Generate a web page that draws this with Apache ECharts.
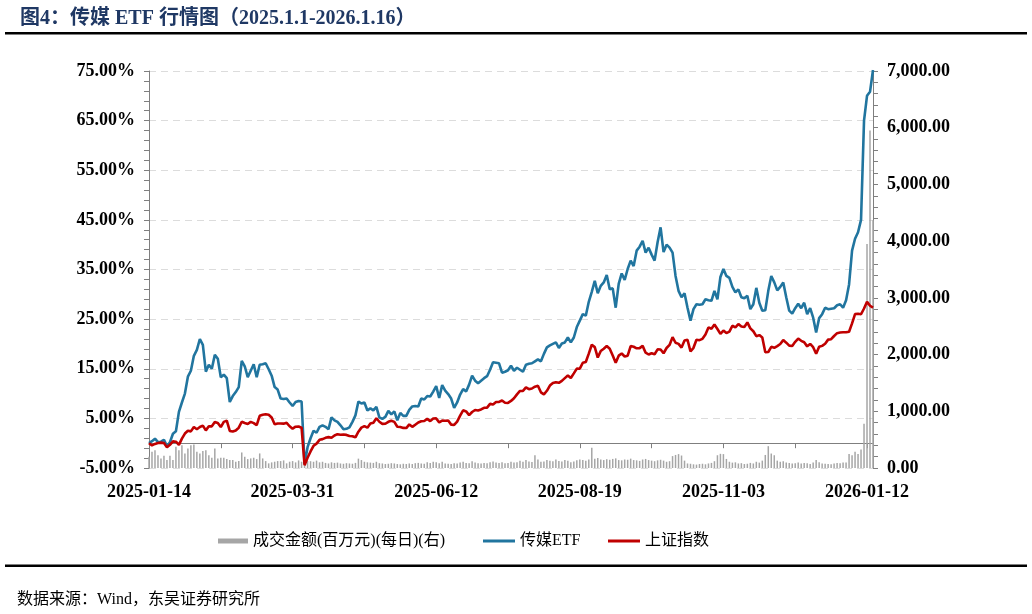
<!DOCTYPE html>
<html>
<head>
<meta charset="utf-8">
<script src="https://cdn.jsdelivr.net/npm/echarts@6/dist/echarts.min.js"></script>
<style>
html,body{margin:0;padding:0;background:#fff;}
#main{width:1032px;height:614px;}
</style>
</head>
<body>
<div id="main"></div>
<script>
// Trading dates (category axis)
var dates = [
'2025-01-14','2025-01-15','2025-01-16','2025-01-17','2025-01-20','2025-01-21','2025-01-22','2025-01-23','2025-01-24','2025-01-27',
'2025-02-05','2025-02-06','2025-02-07','2025-02-10','2025-02-11','2025-02-12','2025-02-13','2025-02-14','2025-02-17','2025-02-18','2025-02-19','2025-02-20','2025-02-21','2025-02-24','2025-02-25','2025-02-26','2025-02-27','2025-02-28',
'2025-03-03','2025-03-04','2025-03-05','2025-03-06','2025-03-07','2025-03-10','2025-03-11','2025-03-12','2025-03-13','2025-03-14','2025-03-17','2025-03-18','2025-03-19','2025-03-20','2025-03-21','2025-03-24','2025-03-25','2025-03-26','2025-03-27','2025-03-28','2025-03-31',
'2025-04-01','2025-04-02','2025-04-03','2025-04-07','2025-04-08','2025-04-09','2025-04-10','2025-04-11','2025-04-14','2025-04-15','2025-04-16','2025-04-17','2025-04-18','2025-04-21','2025-04-22','2025-04-23','2025-04-24','2025-04-25','2025-04-28','2025-04-29','2025-04-30',
'2025-05-06','2025-05-07','2025-05-08','2025-05-09','2025-05-12','2025-05-13','2025-05-14','2025-05-15','2025-05-16','2025-05-19','2025-05-20','2025-05-21','2025-05-22','2025-05-23','2025-05-26','2025-05-27','2025-05-28','2025-05-29','2025-05-30',
'2025-06-03','2025-06-04','2025-06-05','2025-06-06','2025-06-09','2025-06-10','2025-06-11','2025-06-12','2025-06-13','2025-06-16','2025-06-17','2025-06-18','2025-06-19','2025-06-20','2025-06-23','2025-06-24','2025-06-25','2025-06-26','2025-06-27','2025-06-30',
'2025-07-01','2025-07-02','2025-07-03','2025-07-04','2025-07-07','2025-07-08','2025-07-09','2025-07-10','2025-07-11','2025-07-14','2025-07-15','2025-07-16','2025-07-17','2025-07-18','2025-07-21','2025-07-22','2025-07-23','2025-07-24','2025-07-25','2025-07-28','2025-07-29','2025-07-30','2025-07-31',
'2025-08-01','2025-08-04','2025-08-05','2025-08-06','2025-08-07','2025-08-08','2025-08-11','2025-08-12','2025-08-13','2025-08-14','2025-08-15','2025-08-18','2025-08-19','2025-08-20','2025-08-21','2025-08-22','2025-08-25','2025-08-26','2025-08-27','2025-08-28','2025-08-29',
'2025-09-01','2025-09-02','2025-09-03','2025-09-04','2025-09-05','2025-09-08','2025-09-09','2025-09-10','2025-09-11','2025-09-12','2025-09-15','2025-09-16','2025-09-17','2025-09-18','2025-09-19','2025-09-22','2025-09-23','2025-09-24','2025-09-25','2025-09-26','2025-09-29','2025-09-30',
'2025-10-09','2025-10-10','2025-10-13','2025-10-14','2025-10-15','2025-10-16','2025-10-17','2025-10-20','2025-10-21','2025-10-22','2025-10-23','2025-10-24','2025-10-27','2025-10-28','2025-10-29','2025-10-30','2025-10-31',
'2025-11-03','2025-11-04','2025-11-05','2025-11-06','2025-11-07','2025-11-10','2025-11-11','2025-11-12','2025-11-13','2025-11-14','2025-11-17','2025-11-18','2025-11-19','2025-11-20','2025-11-21','2025-11-24','2025-11-25','2025-11-26','2025-11-27','2025-11-28',
'2025-12-01','2025-12-02','2025-12-03','2025-12-04','2025-12-05','2025-12-08','2025-12-09','2025-12-10','2025-12-11','2025-12-12','2025-12-15','2025-12-16','2025-12-17','2025-12-18','2025-12-19','2025-12-22','2025-12-23','2025-12-24','2025-12-25','2025-12-26','2025-12-29','2025-12-30','2025-12-31',
'2026-01-05','2026-01-06','2026-01-07','2026-01-08','2026-01-09','2026-01-12','2026-01-13','2026-01-14'
];

// 传媒ETF cumulative return (%)
var etfReturn = [
0.0,0.4,0.9,0.2,0.3,0.7,-0.6,0.2,1.9,2.4,
6.3,8.2,10.0,13.4,14.6,17.6,18.8,21.0,19.8,14.4,15.8,15.0,17.8,17.0,13.3,13.8,13.1,8.3,
9.5,10.3,11.3,16.6,15.5,13.3,14.6,15.9,13.3,15.8,15.9,16.1,14.9,13.6,11.3,10.8,9.0,8.9,9.0,8.2,7.5,
8.3,8.5,8.4,-4.2,-0.8,1.0,2.5,2.1,3.3,3.6,3.3,2.8,5.2,4.6,4.3,3.6,2.8,2.9,3.2,4.3,5.6,
8.4,8.0,8.2,6.6,7.0,6.6,7.3,5.2,4.9,5.3,6.5,5.8,6.4,4.6,6.1,5.5,5.5,6.7,7.4,
7.5,7.4,9.0,8.8,9.5,9.4,10.4,11.5,9.1,11.7,10.6,9.9,9.0,7.1,8.2,9.8,10.9,10.4,11.8,13.6,
12.6,12.1,12.6,13.1,13.5,14.8,16.3,16.2,16.1,14.2,14.4,14.7,15.6,14.6,15.2,14.8,14.4,15.8,16.0,16.1,16.5,16.9,16.5,
18.0,19.3,19.7,20.0,20.3,19.2,20.1,20.3,21.3,20.3,21.3,23.4,24.7,26.0,25.7,28.5,30.5,32.7,30.2,31.7,32.4,
33.9,31.0,31.2,27.3,32.1,34.2,32.9,35.1,36.8,35.7,38.8,39.6,40.8,38.4,39.4,38.0,36.8,40.5,43.5,38.5,40.0,39.4,
38.4,33.7,30.7,29.4,30.2,27.3,24.7,27.0,28.0,27.9,28.0,29.0,28.8,28.7,30.7,29.0,33.5,
35.1,33.7,33.3,31.5,30.4,31.0,29.4,29.2,29.7,27.0,28.0,31.3,28.3,26.7,26.8,30.7,33.7,32.4,30.8,31.5,
32.4,29.4,26.7,26.1,27.2,28.1,27.2,28.3,26.0,27.2,25.3,22.3,25.2,26.0,27.3,27.0,27.1,27.2,27.8,28.0,27.3,28.8,32.0,
38.8,41.2,42.5,45.0,65.0,70.0,70.8,75.2
];

// 上证指数 cumulative return (%)
var sseReturn = [
0.00,-0.43,-0.15,0.03,0.11,0.05,-0.84,-0.33,0.36,0.30,
-0.35,0.92,1.94,2.51,2.38,3.25,2.82,3.26,3.55,2.58,3.41,3.39,4.26,4.08,3.24,4.30,4.54,2.47,
2.34,2.57,3.12,4.32,4.06,3.86,4.29,4.04,3.63,5.51,5.72,5.83,5.72,5.18,3.82,3.98,3.98,3.94,4.10,3.41,2.93,
3.32,3.37,3.12,-4.45,-2.94,-1.67,-0.53,-0.08,0.67,0.82,1.08,1.22,1.10,1.56,1.82,1.71,1.74,1.67,1.46,1.41,1.18,
2.32,3.14,3.43,3.12,3.96,4.13,5.03,4.32,3.90,3.91,4.31,4.52,4.30,3.31,3.27,3.08,3.05,3.78,3.29,
3.73,4.17,4.42,4.46,4.90,4.44,4.98,4.99,4.20,4.56,4.52,4.56,3.74,3.67,4.34,5.54,6.63,6.40,5.66,6.28,
6.69,6.60,6.79,7.14,7.16,7.92,7.78,8.29,8.31,8.60,8.15,8.11,8.51,9.06,9.84,10.52,10.53,11.26,10.88,11.02,11.38,11.56,10.25,
9.84,10.56,11.62,12.13,12.30,12.16,12.55,13.11,13.65,13.13,14.06,15.03,15.01,16.21,16.36,18.04,19.83,19.36,17.26,18.59,19.04,
19.58,19.04,17.67,16.20,17.64,18.08,17.47,17.63,19.57,19.43,19.12,19.16,19.61,18.23,17.87,18.13,17.92,18.91,18.89,18.12,19.18,19.80,
21.38,20.24,20.01,19.26,20.71,20.84,18.48,19.22,20.84,20.76,21.03,21.89,23.33,23.06,23.93,23.02,22.03,
22.70,22.19,22.47,23.66,23.35,24.00,23.51,23.42,24.33,23.13,22.56,21.56,21.78,21.29,18.33,18.38,19.41,19.23,19.57,19.98,
20.77,20.26,19.66,19.59,20.42,21.08,20.63,20.35,19.51,20.01,19.35,18.02,19.42,19.61,20.04,20.87,20.95,21.60,22.17,22.30,22.35,22.35,22.46,
24.14,26.00,26.07,25.98,27.14,28.52,27.70,27.31
];

// 成交金额 (百万元, daily)
var turnover = [
198,285,315,227,169,215,140,215,140,373,
315,402,257,344,402,414,285,257,300,315,227,180,344,169,180,181,157,140,
140,111,122,274,198,157,169,181,157,257,169,122,82,99,111,122,122,134,82,111,122,
99,134,111,160,122,120,110,130,100,110,90,80,100,90,95,80,75,85,80,75,90,
165,140,110,100,95,90,110,85,80,70,75,85,80,70,65,75,70,80,70,
85,90,80,75,100,90,110,100,85,110,80,75,70,85,80,95,110,90,85,120,
95,85,80,90,85,100,115,95,90,100,85,90,110,95,100,130,110,140,115,105,225,150,110,
115,140,130,120,150,125,115,140,130,100,115,135,150,140,130,150,355,165,175,150,140,
155,145,160,170,140,135,150,145,165,140,135,125,150,160,140,130,120,135,145,130,110,120,
210,230,245,220,130,80,75,65,60,70,75,65,80,90,120,225,250,
245,160,110,95,100,80,85,70,75,90,80,110,95,130,230,385,255,225,130,110,
120,95,90,80,85,95,80,90,85,70,95,140,100,80,75,70,65,80,90,85,95,95,245,
227,285,245,327,780,3950,5950,4370
];

// Axis tick settings
var leftTicks = {min:-5, max:75, interval:10};
var rightTicks = {min:0, max:7000, interval:1000};

var axisGray = '#7f7f7f';
var labelFont = {fontFamily:"'Liberation Serif','Times New Roman',serif", fontWeight:'bold', fontSize:18, color:'#000'};
var cjkFont = "'Liberation Serif','Noto Sans CJK SC',serif";

var chart = echarts.init(document.getElementById('main'), null, {renderer:'canvas'});
chart.setOption({
  animation:false,
  backgroundColor:'#fff',
  title:{
    text:'图4：传媒 ETF 行情图（2025.1.1-2026.1.16）',
    left:15, top:4,
    textStyle:{fontFamily:cjkFont, fontWeight:'bold', fontSize:20, color:'#1f3864'}
  },
  graphic:[
    {type:'rect', shape:{x:5, y:32, width:1022, height:2.5}, style:{fill:'#000'}},
    {type:'rect', shape:{x:5, y:564.5, width:1022, height:2.5}, style:{fill:'#000'}},
    {type:'text', left:17, top:592, style:{text:'数据来源：Wind，东吴证券研究所', font:"16px 'Liberation Serif','Noto Sans CJK SC',serif", fill:'#000'}}
  ],
  legend:[
    {data:['成交金额(百万元)(每日)(右)'], left:213, top:528, icon:'rect', itemWidth:30, itemHeight:5, itemGap:5,
     textStyle:{fontFamily:cjkFont, fontSize:16, color:'#000'}},
    {data:['传媒ETF'], left:478, top:528, icon:'rect', itemWidth:32, itemHeight:3,
     textStyle:{fontFamily:cjkFont, fontSize:16, color:'#000'}},
    {data:['上证指数'], left:603, top:528, icon:'rect', itemWidth:32, itemHeight:3,
     textStyle:{fontFamily:cjkFont, fontSize:16, color:'#000'}}
  ],
  grid:{left:149, right:159, top:71, bottom:146},
  xAxis:{
    type:'category', data:dates, boundaryGap:false,
    axisLine:{onZero:true, onZeroAxisIndex:0, lineStyle:{color:axisGray, width:1}},
    axisTick:{show:true, interval:23, length:5, lineStyle:{color:axisGray}},
    axisLabel:Object.assign({interval:47, margin:15}, labelFont),
    splitLine:{show:false}
  },
  yAxis:[
    {
      type:'value', position:'left', min:leftTicks.min, max:leftTicks.max, interval:leftTicks.interval,
      axisLine:{show:true, lineStyle:{color:axisGray}},
      axisTick:{show:true, length:5, lineStyle:{color:axisGray}},
      minorTick:{show:true, splitNumber:5, length:5, lineStyle:{color:axisGray}},
      axisLabel:Object.assign({margin:14, formatter:function(v){return v.toFixed(2)+'%';}}, labelFont),
      splitLine:{show:true, lineStyle:{color:'#dcdcdc', type:[7,5], width:1}}
    },
    {
      type:'value', position:'right', min:rightTicks.min, max:rightTicks.max, interval:rightTicks.interval,
      axisLine:{show:true, lineStyle:{color:axisGray}},
      axisTick:{show:true, length:5, lineStyle:{color:axisGray}},
      minorTick:{show:true, splitNumber:5, length:5, lineStyle:{color:axisGray}},
      axisLabel:Object.assign({margin:14, formatter:function(v){return v.toLocaleString('en-US',{minimumFractionDigits:2, maximumFractionDigits:2});}}, labelFont),
      splitLine:{show:false}
    }
  ],
  series:[
    {name:'成交金额(百万元)(每日)(右)', type:'bar', yAxisIndex:1, data:turnover, barWidth:'50%',
     itemStyle:{color:'#a6a6a6'}, z:1},
    {name:'传媒ETF', type:'line', yAxisIndex:0, data:etfReturn, showSymbol:false, symbol:'none',
     lineStyle:{color:'#21759f', width:2.6}, itemStyle:{color:'#21759f'}, z:3},
    {name:'上证指数', type:'line', yAxisIndex:0, data:sseReturn, showSymbol:false, symbol:'none',
     lineStyle:{color:'#c00000', width:2.6}, itemStyle:{color:'#c00000'}, z:4}
  ]
});
</script>
</body>
</html>
